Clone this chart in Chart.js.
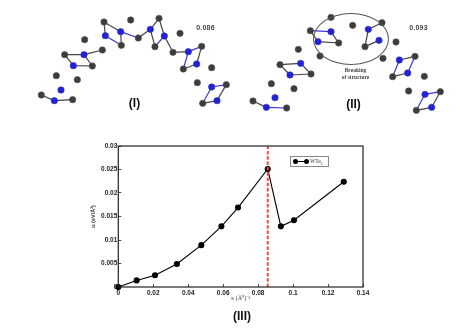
<!DOCTYPE html>
<html>
<head>
<meta charset="utf-8">
<style>
html,body{margin:0;padding:0;background:#fff;}
body{width:468px;height:331px;overflow:hidden;position:relative;font-family:"Liberation Sans",Arial,sans-serif;}
#page{position:absolute;left:0;top:0;width:468px;height:331px;filter:blur(0.45px);}
.box{position:absolute;}
.t{position:absolute;transform:translate(-50%,-50%);white-space:nowrap;}
.lab{font-weight:bold;font-size:12px;color:#111;}
.val{font-weight:bold;font-size:7px;color:#444;letter-spacing:.2px;}
#ring{position:absolute;left:313px;top:13px;width:76px;height:52px;border:1px solid #555;border-radius:50%;box-sizing:border-box;}
#lg{position:absolute;left:290px;top:156px;width:39px;height:11px;border:1px solid #888;box-sizing:border-box;background:#fff;}
#lgl{position:absolute;left:3px;top:3.5px;width:14px;height:1.5px;background:#000;}
.dot{position:absolute;top:2px;width:5px;height:5px;border-radius:50%;background:#000;}
#lgt{position:absolute;left:19px;top:0px;font:5.5px "Liberation Serif",serif;line-height:9px;color:#333;}
</style>
<script src="https://cdn.jsdelivr.net/npm/chart.js@4/dist/chart.umd.min.js"></script>
</head>
<body>
<div id="page">
<div class="box" style="left:20px;top:0;width:220px;height:125px"><canvas id="p1"></canvas></div>
<div class="box" style="left:235px;top:0;width:220px;height:125px"><canvas id="p2"></canvas></div>
<div class="box" style="left:90px;top:136px;width:290px;height:171px"><canvas id="main"></canvas></div>
<div id="ring"></div>
<div class="t" style="left:355.5px;top:73px;font:5.5px/6.5px 'Liberation Serif',serif;color:#444;text-align:center;font-weight:bold">Breaking<br>of structure</div>
<div class="t val" style="left:205.5px;top:27px">0.086</div>
<div class="t val" style="left:418.5px;top:26.5px">0.093</div>
<div class="t lab" style="left:134.5px;top:103px">(I)</div>
<div class="t lab" style="left:353.5px;top:104px">(II)</div>
<div class="t lab" style="left:242px;top:316px">(III)</div>
<div id="lg"><div id="lgl"></div><div class="dot" style="left:2px"></div><div class="dot" style="left:13px"></div><div id="lgt">WTe<sub style="font-size:4px">2</sub></div></div>
</div>
<script>
// Main curve
const kappa  = [0,0.0105,0.021,0.0335,0.0475,0.059,0.0685,0.0855,0.093,0.1005,0.129];
const energy = [0,0.0014,0.0025,0.0049,0.0089,0.0129,0.0169,0.0251,0.0129,0.0142,0.0224];
const criticalKappa = 0.0855;
const xTicks = [0,0.02,0.04,0.06,0.08,0.1,0.12,0.14];
const yTicks = [0,0.005,0.01,0.015,0.02,0.025,0.03];

// Panel I (structure at 0.086)
const greyI = [[252,66],[332,60],[417,55],[194,119],[355,114],[304,136],[405,140],[480,100],[247,150],[134,164],[217,198],[459,157],[545,139],[490,207],[575,203],[109,227],[172,239],[532,248],[619,254],[64,285],[158,299],[548,310]];
const blueI = [[256,107],[302,95],[391,88],[433,108],[192,164],[160,197],[505,155],[530,192],[123,270],[103,302],[575,261],[591,302]];
const darkBondsI = [[252,66,302,95],[252,66,256,107],[302,95,304,136],[355,114,391,88],[391,88,417,55],[417,55,433,108],[391,88,405,140],[433,108,459,157],[459,157,505,155],[545,139,530,192],[530,192,490,207],[134,164,192,164],[192,164,247,150],[192,164,217,198],[217,198,160,197],[160,197,134,164],[64,285,103,302],[103,302,158,299],[619,254,591,302],[591,302,548,310]];
const blueBondsI = [[256,107,304,136],[302,95,355,114],[433,108,405,140],[505,155,545,139],[505,155,490,207],[575,261,619,254],[575,261,548,310]];

// Panel II (structure at 0.093)
const greyII = [[288,52],[353,76],[441,68],[226,92],[311,129],[390,140],[483,126],[190,148],[255,168],[444,175],[135,194],[228,222],[540,169],[473,230],[568,229],[109,251],[177,266],[521,273],[616,275],[54,303],[155,324],[544,331]];
const blueII = [[288,95],[249,125],[400,88],[432,121],[197,190],[165,225],[493,180],[518,219],[120,293],[94,322],[570,283],[590,322]];
const darkBondsII = [[226,92,249,125],[288,95,311,129],[249,125,311,129],[400,88,441,68],[400,88,390,140],[390,140,432,121],[135,194,197,190],[135,194,165,225],[165,225,228,222],[197,190,228,222],[540,169,493,180],[473,230,518,219],[54,303,94,322],[616,275,590,322],[590,322,544,331]];
const blueBondsII = [[226,92,288,95],[493,180,473,230],[518,219,540,169],[94,322,155,324],[570,283,616,275],[570,283,544,331]];

function pts(list){return list.map(p=>({x:p[0],y:p[1]}));}
function segs(list){
  const out=[];
  list.forEach(b=>{out.push({x:b[0],y:b[1]},{x:b[2],y:b[3]},{x:b[2],y:null});});
  return out;
}
function structure(id,grey,blue,dark,blueB){
  new Chart(document.getElementById(id),{
    type:'scatter',
    data:{datasets:[
      {data:pts(grey),pointRadius:3.2,pointBackgroundColor:'#3c3c3c',pointBorderColor:'#555',pointBorderWidth:.6,showLine:false,order:1,clip:false},
      {data:pts(blue),pointRadius:3.2,pointBackgroundColor:'#2222dd',pointBorderColor:'#3030a0',pointBorderWidth:.6,showLine:false,order:1,clip:false},
      {data:segs(dark),showLine:true,spanGaps:false,borderColor:'#444',borderWidth:1.2,pointRadius:0,order:2},
      {data:segs(blueB),showLine:true,spanGaps:false,borderColor:'#3a3ad0',borderWidth:1.2,pointRadius:0,order:2}
    ]},
    options:{
      responsive:true,maintainAspectRatio:false,animation:false,
      layout:{padding:0,autoPadding:false},
      plugins:{legend:{display:false},tooltip:{enabled:false}},
      scales:{
        x:{display:false,min:0,max:660},
        y:{display:false,min:0,max:375,reverse:true}
      }
    }
  });
}
structure('p1',greyI,blueI,darkBondsI,blueBondsI);
structure('p2',greyII,blueII,darkBondsII,blueBondsII);

const frame={id:'frame',afterDatasetsDraw(c){
  const a=c.chartArea,g=c.ctx;
  g.save();g.strokeStyle='#222';g.lineWidth=1.2;
  g.strokeRect(a.left,a.top,a.right-a.left,a.bottom-a.top);g.restore();
}};
const fmt=v=>String(+Number(v).toFixed(3));
const tickFont={family:'"Liberation Sans",Arial,sans-serif',size:6.5,weight:'bold'};
new Chart(document.getElementById('main'),{
  type:'scatter',
  plugins:[frame],
  data:{datasets:[
    {label:'WTe2',data:kappa.map((x,i)=>({x,y:energy[i]})),showLine:true,borderColor:'#000',borderWidth:1.1,pointRadius:2.5,pointBackgroundColor:'#000',pointBorderColor:'#000',order:2,clip:false},
    {data:[{x:criticalKappa,y:0},{x:criticalKappa,y:0.03}],showLine:true,borderColor:'#f54848',borderWidth:2,borderDash:[3.5,1.8],pointRadius:0,order:1}
  ]},
  options:{
    responsive:true,maintainAspectRatio:false,animation:false,
    layout:{padding:{top:10,right:17,left:0,bottom:0},autoPadding:false},
    plugins:{legend:{display:false},tooltip:{enabled:false}},
    scales:{
      x:{
        min:0,max:0.14,
        afterBuildTicks(s){s.ticks=xTicks.map(v=>({value:v}));},
        afterFit(s){s.height=20;},
        grid:{drawOnChartArea:false,tickLength:-3,color:'#222',tickWidth:.8},
        border:{display:false},
        ticks:{font:tickFont,color:'#222',maxRotation:0,autoSkip:false,padding:5,callback:fmt},
        title:{display:true,text:'κ (Å⁰)⁻¹',font:{family:'"Liberation Serif",serif',size:6},color:'#444',padding:{top:2,bottom:5}}
      },
      y:{
        min:0,max:0.03,
        afterBuildTicks(s){s.ticks=yTicks.map(v=>({value:v}));},
        afterFit(s){s.width=28.3;},
        grid:{drawOnChartArea:false,tickLength:-3,color:'#222',tickWidth:.8},
        border:{display:false},
        ticks:{font:tickFont,color:'#222',autoSkip:false,padding:4,callback:fmt},
        title:{display:true,text:'u (eV/Å²)',font:{family:'"Liberation Sans",sans-serif',size:5.5,weight:'bold'},color:'#333',padding:{top:0,bottom:0}}
      }
    }
  }
});
</script>
</body>
</html>
